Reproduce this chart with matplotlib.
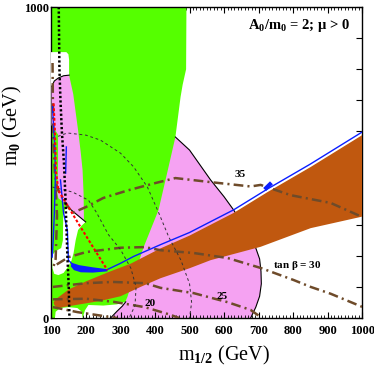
import numpy as np
import matplotlib.pyplot as plt
from matplotlib.ticker import MultipleLocator, FixedLocator, FixedFormatter

plt.rcParams['font.family'] = ['Liberation Serif', 'DejaVu Serif']
plt.rcParams['font.weight'] = 'bold'
plt.rcParams['mathtext.fontset'] = 'custom'
plt.rcParams['mathtext.rm'] = 'Liberation Serif:bold'
plt.rcParams['mathtext.it'] = 'Liberation Serif:bold'
plt.rcParams['mathtext.bf'] = 'Liberation Serif:bold'
plt.rcParams['lines.scale_dashes'] = False

# region boundaries, (m_1/2, m_0) in GeV
bsg_region = [(95, 0), (95, 1000), (491, 1000), (490, 800), (480, 750), (474, 711),
              (459, 582), (435, 466), (410, 347), (367, 228), (338, 132), (320, 68),
              (314, 52), (290, 44), (250, 40), (207, 42), (197, 25), (190, 0)]
gm2_region = [(459, 582), (500, 540), (561, 444), (600, 390), (628, 347), (660, 290),
              (691, 228), (703, 190), (707, 150), (708, 110), (703, 70), (692, 35),
              (677, 0), (271, 0), (290, 22), (305, 38), (315, 52), (340, 200),
              (400, 400), (440, 560)]
gm2_left = [(100, 745), (108, 762), (120, 772), (135, 779), (151, 781), (163, 720),
            (177, 604), (185, 530), (190, 476), (193, 400), (194, 315), (199, 309),
            (150, 354), (135, 372), (120, 385), (117, 400), (119, 500), (119, 590),
            (110, 605), (100, 620)]
white_notch = [(97, 855), (143, 855), (149, 848), (151, 830), (151, 781), (135, 779),
               (120, 772), (108, 762), (103, 748), (97, 740)]
white_mid = [(199, 309), (150, 354), (140, 350), (134, 330), (133, 250), (128, 225),
             (112, 215), (104, 205), (102, 190), (103, 160), (108, 142), (120, 138),
             (135, 145), (148, 165), (158, 185), (164, 209), (170, 250), (177, 283),
             (188, 298)]
white_low = [(110, 0), (112, 20), (125, 32), (150, 35), (175, 32), (188, 20), (190, 0)]
stau_upper = [(106, 50), (112, 60), (150, 92), (200, 118), (266, 148), (330, 175),
              (416, 224), (500, 265), (570, 305), (628, 338), (726, 405), (850, 485),
              (1000, 588)]
stau_lower = [(108, 42), (116, 32), (150, 38), (242, 55), (300, 70), (358, 100),
              (416, 128), (500, 160), (561, 186), (706, 229), (851, 289), (1000, 326)]

# boundary lines
gm2_edge = [(459, 582), (500, 540), (561, 444), (600, 390), (628, 347), (660, 290),
            (691, 228), (703, 190), (707, 150), (708, 110), (703, 70), (692, 35), (677, 0)]
gm2_edge_low = [(271, 0), (290, 22), (305, 38), (315, 52)]
gm2_edge_mid = [(150, 354), (199, 309)]
notch_edge = [(101, 745), (108, 762), (120, 772), (135, 779), (151, 781)]

wmap_line = [(1000, 598), (850, 495), (726, 415), (628, 348), (570, 315), (500, 275),
             (416, 236), (338, 198), (300, 176), (262, 156)]
wmap_band = [(158, 178), (180, 170), (220, 163), (262, 157), (262, 150), (220, 146),
             (185, 147), (165, 154), (156, 166)]
wmap_left = [(126, 444), (135, 337), (146, 283), (149, 186), (158, 176)]
wmap_axis = [(103, 680), (106, 620), (110, 540), (111, 444), (108, 330), (105, 250),
             (102, 196)]
wmap_bit = [(141, 466), (142, 510), (143, 550)]
wmap_blob = [(722, 418), (733, 430)]

higgs_114 = [(106, 690), (110, 600), (113, 470), (120, 410), (180, 300), (236, 200),
             (262, 154)]
chargino = [(121, 1000), (123, 800), (126, 700), (130, 600), (136, 500), (140, 400),
            (143, 300), (146, 200), (150, 100), (152, 0)]

mass_a = [(103, 580), (121, 585), (146, 595), (200, 588), (242, 572), (300, 530),
          (338, 486), (378, 421), (410, 340), (440, 260), (475, 186), (500, 110),
          (506, 50), (500, 0)]
mass_b = [(103, 421), (161, 405), (207, 379), (230, 340), (265, 268), (300, 220),
          (330, 160), (345, 100), (342, 40), (325, 0)]

tb_35 = [(103, 820), (104, 700), (106, 560), (110, 460), (116, 418), (140, 370),
         (161, 338), (200, 357), (250, 386), (323, 411), (401, 434), (459, 450),
         (561, 437), (677, 423), (706, 428), (793, 395), (909, 370), (1000, 325)]
tb_30 = [(112, 412), (116, 330), (112, 190), (106, 166), (150, 196), (200, 212),
         (300, 226), (370, 228), (416, 218), (512, 209), (610, 193), (706, 161),
         (802, 122), (851, 100), (909, 78), (1000, 36)]
tb_25 = [(104, 100), (200, 112), (277, 116), (372, 112), (416, 97), (512, 80),
         (610, 51), (677, 26), (706, 3)]
tb_20 = [(104, 60), (200, 62), (280, 52), (370, 35), (440, 12), (470, 0)]
tb_10 = [(104, 35), (175, 19), (271, 3), (290, 0)]

tb_labels = ['35', r'tan $\beta$ = 30', '25', '20']
tb_label_pos = [(648, 460), (812, 170), (594, 69), (385, 48)]

green = '#55ff00'
pink = '#f5a2f2'
rust = '#c0580f'
dbrown = '#6e4b2a'
blue = '#0a1eff'


def xy(pts):
    a = np.array(pts, dtype=float)
    return a[:, 0], a[:, 1]


fig = plt.figure(figsize=(3.74, 3.70), dpi=100)
ax = fig.add_axes([0.1377, 0.1405, 0.8305, 0.8405])

ax.fill(*xy(gm2_region), color=pink, lw=0, zorder=1)
ax.fill(*xy(bsg_region), color=green, lw=0, zorder=2)
ax.fill(*xy(gm2_left), color=pink, lw=0, zorder=3)
for poly in (white_notch, white_mid, white_low):
    ax.fill(*xy(poly), color='white', lw=0, zorder=3)

for ln in (gm2_edge, gm2_edge_low, gm2_edge_mid, notch_edge):
    ax.plot(*xy(ln), color='black', lw=0.8, zorder=4)

# tan beta contours
for ln in (tb_35, tb_30, tb_25, tb_20, tb_10):
    ax.plot(*xy(ln), color=dbrown, lw=1.8, dashes=(7, 3, 1.5, 3), zorder=6)

# stau LSP region
sx = [p[0] for p in stau_upper] + [p[0] for p in stau_lower[::-1]]
sy = [p[1] for p in stau_upper] + [p[1] for p in stau_lower[::-1]]
ax.fill(sx, sy, color=rust, lw=0, zorder=5)

ax.plot(*xy(mass_a), color='#333333', lw=0.7, dashes=(2, 2), zorder=6)
ax.plot(*xy(mass_b), color='#333333', lw=0.7, dashes=(2, 2), zorder=6)

ax.plot(*xy(wmap_line), color=blue, lw=1.0, zorder=7)
ax.fill(*xy(wmap_band), color=blue, lw=0, zorder=7)
ax.plot(*xy(wmap_left), color=blue, lw=1.0, zorder=7)
ax.plot(*xy(wmap_axis), color=blue, lw=1.0, zorder=7)
ax.plot(*xy(wmap_bit), color=blue, lw=1.0, zorder=7)
ax.plot(*xy(wmap_blob), color=blue, lw=3.0, zorder=7)

ax.plot(*xy(higgs_114), color='red', lw=1.5, dashes=(2, 1.5), zorder=8)
ax.plot(*xy(chargino), color='black', lw=1.8, dashes=(1.6, 1.6), zorder=8)

for t, (px, py) in zip(tb_labels, tb_label_pos):
    ax.text(px, py, t, fontsize=8, ha='center', va='center', zorder=9)

ax.text(0.96, 0.94, r'A$_0$/m$_0$ = 2; $\mu$ > 0', transform=ax.transAxes,
        fontsize=10.5, ha='right', va='center', zorder=9)

ax.set_xlim(100, 1000)
ax.set_ylim(0, 1000)
ax.xaxis.set_major_locator(MultipleLocator(100))
ax.xaxis.set_minor_locator(MultipleLocator(10))
ax.yaxis.set_major_locator(FixedLocator(np.arange(0, 1001, 100)))
ax.yaxis.set_major_formatter(FixedFormatter(['0', '', '', '', '', '', '', '', '', '', '1000']))
ax.tick_params(which='both', direction='in', top=True, right=True, labelsize=9)
ax.tick_params(which='major', length=4, width=0.8)
ax.tick_params(which='minor', length=2, width=0.6)
ax.tick_params(axis='y', which='minor', left=False, right=False)
ax.tick_params(axis='x', pad=5)
ax.tick_params(axis='y', pad=2)
for s in ax.spines.values():
    s.set_linewidth(1.0)

ax.set_xlabel(r'm$_{1/2}$ (GeV)', fontsize=14.5)
ax.set_ylabel(r'm$_0$ (GeV)', fontsize=14.5)
ax.xaxis.set_label_coords(0.556, -0.083)
ax.yaxis.set_label_coords(-0.09, 0.62)

fig.savefig('out.png', dpi=100)
